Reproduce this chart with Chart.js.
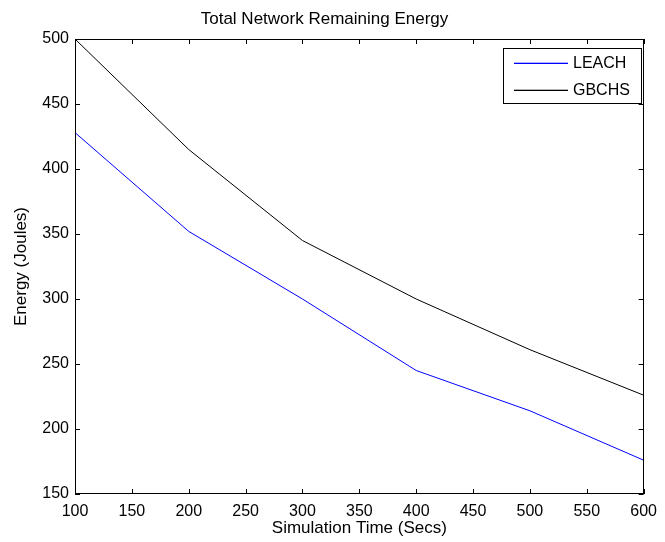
<!DOCTYPE html>
<html>
<head>
<meta charset="utf-8">
<script src="https://cdn.jsdelivr.net/npm/chart.js@4.4.1/dist/chart.umd.min.js"></script>
<style>
  html, body { margin:0; padding:0; background:#fff; }
  #wrap { width:665px; height:542px; }
</style>
</head>
<body>
<div id="wrap"><canvas id="chart"></canvas></div>
<script>
const times = [100, 200, 300, 400, 500, 600];
const leach = [428, 352, 300, 245, 214, 176];
const gbchs = [500, 415, 345, 300, 261, 226];
const seriesNames = ['LEACH', 'GBCHS'];
const seriesColors = ['#0000ff', '#000000'];
const xTicks = [100, 150, 200, 250, 300, 350, 400, 450, 500, 550, 600];
const yTicks = [150, 200, 250, 300, 350, 400, 450, 500];

const FONT = 'Liberation Sans, Arial, sans-serif';

// box round the plot, inward tick marks, legend inside the axes
const matlabAxes = {
  id: 'matlabAxes',
  afterDraw(chart){
    const { ctx, chartArea: a, scales: { x, y } } = chart;
    ctx.save();
    ctx.strokeStyle = '#000';
    ctx.lineWidth = 1;
    ctx.strokeRect(Math.round(a.left) + 0.5, Math.round(a.top) + 0.5, Math.round(a.right - a.left) - 1, Math.round(a.bottom - a.top) - 1);
    const tl = 5;
    ctx.beginPath();
    xTicks.forEach(v => {
      const px = Math.round(x.getPixelForValue(v)) + 0.5;
      ctx.moveTo(px, a.bottom); ctx.lineTo(px, a.bottom - tl);
      ctx.moveTo(px, a.top); ctx.lineTo(px, a.top + tl);
    });
    yTicks.forEach(v => {
      const py = Math.round(y.getPixelForValue(v)) + 0.5;
      ctx.moveTo(a.left, py); ctx.lineTo(a.left + tl, py);
      ctx.moveTo(a.right, py); ctx.lineTo(a.right - tl, py);
    });
    ctx.stroke();

    // legend
    const bx = 503.5, by = 48.5, bw = 138, bh = 55;
    ctx.fillStyle = '#fff';
    ctx.fillRect(bx, by, bw, bh);
    ctx.strokeStyle = '#000';
    ctx.strokeRect(bx, by, bw, bh);
    ctx.font = '16px ' + FONT;
    ctx.textBaseline = 'middle';
    ctx.textAlign = 'left';
    seriesNames.forEach((name, i) => {
      const ly = Math.round(by + 14 + i * 27);
      ctx.fillStyle = seriesColors[i];
      ctx.fillRect(514, ly - 0.3, 54, 1.3);
      ctx.fillStyle = '#000';
      ctx.fillText(name, 573, ly + 1);
    });
    ctx.restore();
  }
};

new Chart(document.getElementById('chart'), {
  type: 'line',
  data: {
    datasets: [
      { label: seriesNames[0], data: times.map((t, i) => ({ x: t, y: leach[i] })), borderColor: seriesColors[0], borderWidth: 1, pointRadius: 0, tension: 0, fill: false },
      { label: seriesNames[1], data: times.map((t, i) => ({ x: t, y: gbchs[i] })), borderColor: seriesColors[1], borderWidth: 1, pointRadius: 0, tension: 0, fill: false }
    ]
  },
  options: {
    responsive: true,
    maintainAspectRatio: false,
    animation: false,
    layout: { padding: { left: 0, right: 16, top: 0, bottom: 0 } },
    plugins: {
      legend: { display: false },
      tooltip: { enabled: false },
      title: {
        display: true,
        text: 'Total Network Remaining Energy',
        color: '#000',
        font: { family: FONT, size: 17, weight: 'normal' },
        padding: { top: 9, bottom: 9.6 }
      }
    },
    scales: {
      x: {
        type: 'linear',
        min: 100, max: 600,
        afterBuildTicks: s => { s.ticks = xTicks.map(v => ({ value: v })); },
        afterFit: s => { s.height = 48; },
        grid: { display: false, drawTicks: false },
        border: { display: false },
        ticks: { color: '#000', font: { family: FONT, size: 16 }, padding: 8, maxRotation: 0, autoSkip: false },
        title: { display: true, text: 'Simulation Time (Secs)', color: '#000', font: { family: FONT, size: 17 }, padding: { top: 0, bottom: 3 } }
      },
      y: {
        type: 'linear',
        min: 150, max: 500,
        afterBuildTicks: s => { s.ticks = yTicks.map(v => ({ value: v })); },
        afterFit: s => { s.width = 75; },
        grid: { display: false, drawTicks: false },
        border: { display: false },
        ticks: { color: '#000', font: { family: FONT, size: 16 }, padding: 6, autoSkip: false },
        title: { display: true, text: 'Energy (Joules)', color: '#000', font: { family: FONT, size: 17 }, padding: { top: 11, bottom: 0 } }
      }
    }
  },
  plugins: [matlabAxes]
});
</script>
</body>
</html>
